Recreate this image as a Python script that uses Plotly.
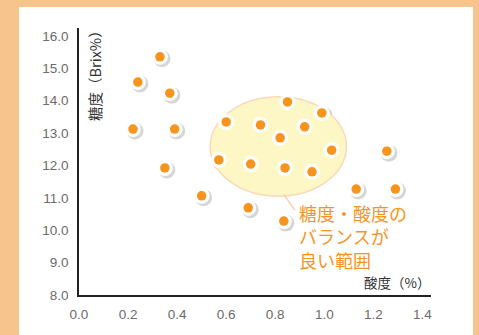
import plotly.graph_objects as go

acidity = [0.33, 0.24, 0.37, 0.22, 0.39, 0.60, 0.57, 0.35, 0.50,
           0.85, 0.99, 0.74, 0.92, 0.82, 1.03, 1.255, 0.70, 0.84, 0.95,
           1.13, 1.29, 0.69, 0.835]
brix = [15.35, 14.57, 14.23, 13.12, 13.12, 13.34, 12.17, 11.92, 11.06,
        13.96, 13.62, 13.25, 13.19, 12.85, 12.47, 12.44, 12.04, 11.92, 11.80,
        11.27, 11.27, 10.69, 10.28]
x_ticks = [0.0, 0.2, 0.4, 0.6, 0.8, 1.0, 1.2, 1.4]
y_ticks = [8.0, 9.0, 10.0, 11.0, 12.0, 13.0, 14.0, 15.0, 16.0]
x_range = [0, 1.435]
y_range = [8, 16.24]
ellipse_x = [0.535, 1.09]
ellipse_y = [11.05, 14.12]

W, H = 479, 335
L, R, T, B = 79, 48, 28, 40
pw, ph = W - L - R, H - T - B

fig = go.Figure()

# background panel
fig.add_shape(type="rect", xref="paper", yref="paper",
              x0=-(L - 19) / pw, x1=(W - 6 - L) / pw, y0=-B / ph - 0.05, y1=1 + (T - 7) / ph,
              fillcolor="white", line_width=0, layer="below")

# ellipse region
fig.add_shape(type="circle", xref="x2", yref="y2",
              x0=ellipse_x[0], x1=ellipse_x[1], y0=ellipse_y[0], y1=ellipse_y[1],
              fillcolor="#FDF7C6", line=dict(color="#FBD9B8", width=1.5), layer="below")

# shadow trace on hidden offset axes (same scale, shifted 2px right and down)
sx, sy = 2.0, 2.0
dx, dy = sx / pw, sy / ph
x_unit = (x_range[1] - x_range[0]) / pw
y_unit = (y_range[1] - y_range[0]) / ph
fig.add_trace(go.Scatter(x=acidity, y=brix, mode="markers", xaxis="x", yaxis="y",
                         marker=dict(size=17, color="rgba(90,90,90,0.25)", line_width=0),
                         hoverinfo="skip", showlegend=False))
fig.add_trace(go.Scatter(x=acidity, y=brix, mode="markers", xaxis="x2", yaxis="y2",
                         marker=dict(size=16, color="white", line_width=0),
                         hoverinfo="skip", showlegend=False))
fig.add_trace(go.Scatter(x=acidity, y=brix, mode="markers", xaxis="x2", yaxis="y2",
                         marker=dict(size=9.5, color="#F7941D", line_width=0),
                         showlegend=False))

# leader line
fig.add_shape(type="line", xref="x2", yref="y2", x0=0.835, y0=11.1, x1=0.88, y1=10.62,
              line=dict(color="#FBD0A8", width=1.5))

fig.add_annotation(xref="x2", yref="y2", x=0.888, y=11.0, xanchor="left", yanchor="top",
                   text="糖度・酸度の<br>バランスが<br>良い範囲", showarrow=False, align="left",
                   font=dict(family="Noto Sans CJK JP", size=18, color="#F7941D"))

fig.add_annotation(xref="paper", yref="paper", x=(432 - L) / pw, y=1 / ph,
                   xanchor="right", yanchor="bottom", text="酸度（%）", showarrow=False,
                   font=dict(family="Noto Sans CJK JP", size=13.5, color="#333333"))
fig.add_annotation(xref="paper", yref="paper", x=(95 - L) / pw, y=1 + 7 / ph,
                   xanchor="center", yanchor="top", text="糖度（Brix%）", textangle=-90,
                   showarrow=False,
                   font=dict(family="Noto Sans CJK JP", size=14.5, color="#333333"))

axis_font = dict(family="Liberation Sans, Arial", size=13.5, color="#6b6b6b")
fig.update_layout(
    width=W, height=H, margin=dict(l=L, r=R, t=T, b=B),
    paper_bgcolor="#F6C48C", plot_bgcolor="rgba(0,0,0,0)",
    xaxis=dict(range=[x_range[0], x_range[1] - sx * x_unit], domain=[dx, 1],
               visible=False, anchor="y"),
    yaxis=dict(range=[y_range[0] + sy * y_unit, y_range[1]], domain=[0, 1 - dy],
               visible=False, anchor="x"),
    xaxis2=dict(range=x_range, tickvals=x_ticks, ticktext=[f"{v:.1f}" for v in x_ticks],
                showgrid=False, zeroline=False, showline=True, linecolor="#222222", linewidth=1.5,
                ticks="outside", ticklen=6, tickcolor="rgba(0,0,0,0)", tickfont=axis_font,
                domain=[0, 1], anchor="y2"),
    yaxis2=dict(range=y_range, tickvals=y_ticks, ticktext=[f"{v:.1f}" for v in y_ticks],
                showgrid=False, zeroline=False, showline=True, linecolor="#222222", linewidth=1.5,
                ticks="outside", ticklen=6, tickcolor="rgba(0,0,0,0)", tickfont=axis_font,
                domain=[0, 1], anchor="x2"),
)

fig.write_html("out.html")
